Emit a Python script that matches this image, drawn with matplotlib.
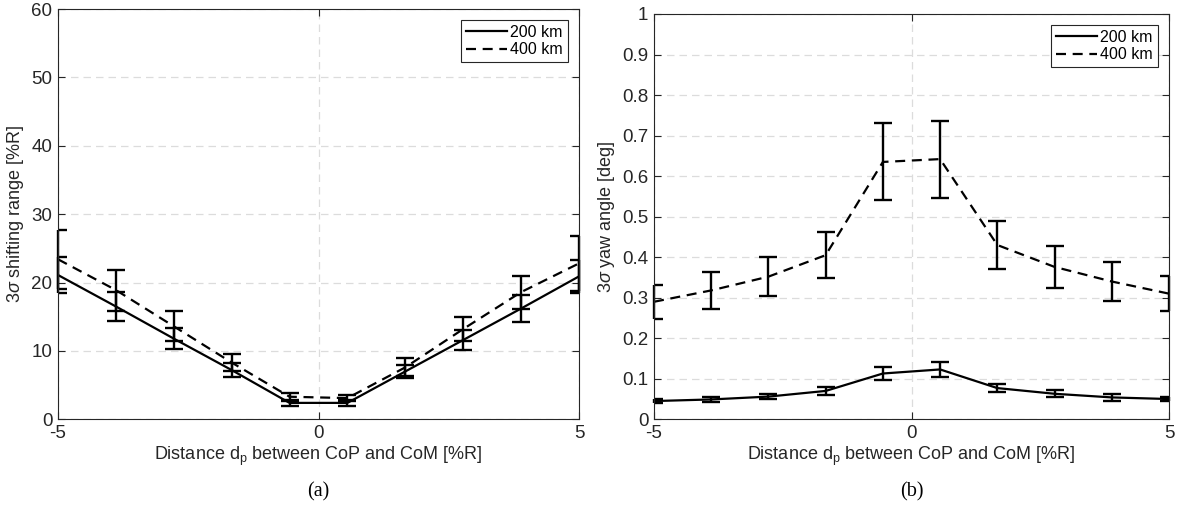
import numpy as np
import matplotlib
matplotlib.use("Agg")
import matplotlib.pyplot as plt

plt.rcParams['font.family'] = ['Liberation Sans', 'DejaVu Sans']
plt.rcParams['mathtext.fontset'] = 'custom'
plt.rcParams['mathtext.rm'] = 'Liberation Sans'
plt.rcParams['mathtext.it'] = 'Liberation Sans:italic'

# ---- data ----
dp = np.linspace(-5, 5, 10)

shift_200 = [21.1, 16.5, 11.8, 7.2, 2.4, 2.4, 7.0, 11.6, 16.2, 20.9]
shift_200_err = [2.7, 2.1, 1.5, 1.0, 0.4, 0.4, 0.9, 1.4, 2.0, 2.4]
shift_400 = [23.4, 18.9, 13.6, 8.3, 3.3, 3.1, 7.6, 13.2, 18.6, 22.8]
shift_400_err = [4.3, 3.0, 2.2, 1.2, 0.6, 0.4, 1.3, 1.8, 2.4, 4.0]

yaw_200 = [0.045, 0.049, 0.056, 0.070, 0.113, 0.123, 0.077, 0.063, 0.054, 0.050]
yaw_200_err = [0.005, 0.006, 0.007, 0.009, 0.016, 0.018, 0.010, 0.009, 0.008, 0.006]
yaw_400 = [0.290, 0.318, 0.352, 0.405, 0.635, 0.642, 0.430, 0.376, 0.340, 0.310]
yaw_400_err = [0.042, 0.045, 0.049, 0.057, 0.095, 0.095, 0.060, 0.052, 0.048, 0.044]

series_labels = ['200 km', '400 km']
xlabel = r'Distance d$_\mathrm{p}$ between CoP and CoM [%R]'
ylabels = [r'3$\sigma$ shifting range [%R]', r'3$\sigma$ yaw angle [deg]']
panel_tags = ['(a)', '(b)']

fig = plt.figure(figsize=(11.9, 5.19), dpi=100)
W, H = 1190, 519
axA = fig.add_axes([58 / W, (H - 419.3) / H, 521 / W, 410.3 / H])
axB = fig.add_axes([654 / W, (H - 419.3) / H, 515 / W, 405.3 / H])

axcol = '#262626'
dash = (0, (4.5, 3))

def style(ax):
    for s in ax.spines.values():
        s.set_color(axcol)
        s.set_linewidth(0.8)
    ax.tick_params(direction='in', top=True, right=True, length=5, width=0.8,
                   colors=axcol, labelsize=13.5, pad=4)
    ax.grid(True, color='#dcdcdc', linestyle=(0, (6, 4)), linewidth=0.9)
    ax.set_axisbelow(True)

def draw(ax, y1, e1, y2, e2):
    out = []
    for y, e, lab in ((y1, e1, series_labels[0]), (y2, e2, series_labels[1])):
        c = ax.errorbar(dp, y, yerr=e, color='black', linewidth=1.6, elinewidth=1.7,
                        capsize=6.5, capthick=1.7, label=lab)
        for bl in c[2]:
            bl.set_clip_on(False)
        out.append(c)
    out[1][0].set_linestyle(dash)

draw(axA, shift_200, shift_200_err, shift_400, shift_400_err)
draw(axB, yaw_200, yaw_200_err, yaw_400, yaw_400_err)

axA.set_xlim(-5, 5)
axA.set_ylim(0, 60)
axA.set_yticks(np.arange(0, 61, 10))
axB.set_xlim(-5, 5)
axB.set_ylim(0, 1)
axB.set_yticks(np.arange(0, 1.01, 0.1))
axB.set_yticklabels(['0', '0.1', '0.2', '0.3', '0.4', '0.5', '0.6', '0.7', '0.8', '0.9', '1'])

for ax, yl, tag in zip([axA, axB], ylabels, panel_tags):
    ax.set_xticks([-5, 0, 5])
    ax.set_xticklabels(['-5', '0', '5'])
    style(ax)
    ax.set_xlabel(xlabel, fontsize=13, color=axcol, labelpad=2)
    ax.set_ylabel(yl, fontsize=13, color=axcol, labelpad=4)
    h, lab = ax.get_legend_handles_labels()
    hh = [hi[0] for hi in h]
    leg = ax.legend(hh, lab, loc='upper right', fontsize=11.5, frameon=True,
                    fancybox=False, edgecolor=axcol, framealpha=1,
                    handlelength=2.6, handletextpad=0.2, borderpad=0.3,
                    labelspacing=0.15, borderaxespad=0.7)
    leg.get_frame().set_linewidth(0.8)
    bb = ax.get_position()
    fig.text(bb.x0 + bb.width / 2, 1 - 492 / H, tag, ha='center', va='center',
             fontsize=14.5, family='Liberation Serif')

fig.savefig('out.png', dpi=100)
